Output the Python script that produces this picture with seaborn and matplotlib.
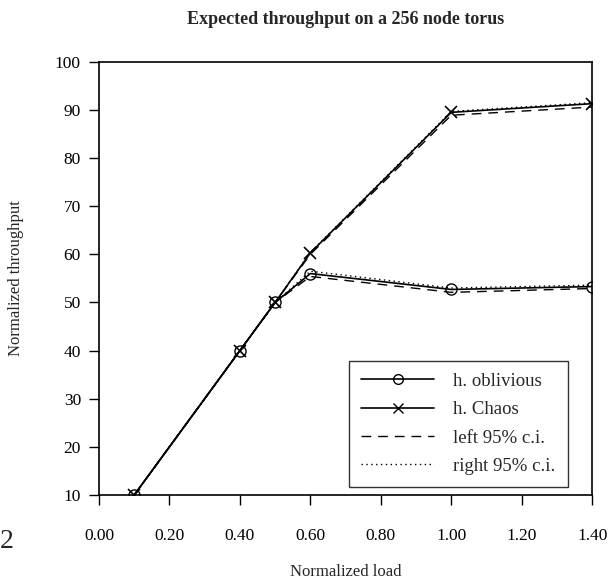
import matplotlib
matplotlib.use("Agg")
import matplotlib.pyplot as plt
import seaborn as sns
from matplotlib.lines import Line2D

# data
load = [0.1, 0.4, 0.5, 0.6, 1.0, 1.4]
oblivious = [10, 40, 50, 56.0, 52.7, 53.3]
chaos = [10, 40, 50, 60.3, 89.5, 91.3]
obl_left = [10, 40, 50, 55.4, 52.1, 52.9]
obl_right = [10, 40, 50, 56.5, 53.0, 53.6]
chaos_left = [10, 40, 50, 60.0, 88.9, 90.6]
chaos_right = [10, 40, 50, 60.4, 89.7, 91.5]

sns.set_style("ticks")
plt.rcParams['font.family'] = ['Liberation Serif', 'DejaVu Serif']
plt.rcParams['xtick.direction'] = 'out'
plt.rcParams['ytick.direction'] = 'out'

fig = plt.figure(figsize=(6.13, 5.83), dpi=100)
ax = fig.add_axes([0.1615, 0.151, 0.8045, 0.743])

dash = (0, (7, 5))
dot = (0, (1, 2.5))
sns.lineplot(x=load, y=obl_left, ax=ax, color='k', lw=1.0, linestyle=dash)
sns.lineplot(x=load, y=chaos_left, ax=ax, color='k', lw=1.0, linestyle=dash)
sns.lineplot(x=load, y=obl_right, ax=ax, color='k', lw=1.0, linestyle=dot)
sns.lineplot(x=load, y=chaos_right, ax=ax, color='k', lw=1.0, linestyle=dot)
sns.lineplot(x=load, y=oblivious, ax=ax, color='k', lw=1.2, marker='o', markersize=8,
             markerfacecolor='none', markeredgecolor='k', markeredgewidth=1.0)
sns.lineplot(x=load, y=chaos, ax=ax, color='k', lw=1.2, marker='x', markersize=8,
             markeredgecolor='k', markeredgewidth=1.2)

ax.set_xlim(0, 1.4)
ax.set_ylim(10, 100)
ax.set_xticks([0, 0.2, 0.4, 0.6, 0.8, 1.0, 1.2, 1.4])
ax.set_xticklabels(['0.00', '0.20', '0.40', '0.60', '0.80', '1.00', '1.20', '1.40'])
ax.set_yticks(range(10, 101, 10))
ax.tick_params(labelsize=12.5, length=7, width=1, colors='k')
ax.tick_params(axis='x', pad=17)
ax.tick_params(axis='y', pad=6)
for s in ax.spines.values():
    s.set_linewidth(1.2)
    s.set_color('k')

ax.set_title('Expected throughput on a 256 node torus', fontsize=13, fontweight='bold', pad=27)
ax.set_xlabel('Normalized load', fontsize=12, labelpad=14)
ax.set_ylabel('Normalized throughput', fontsize=12, labelpad=22)

handles = [
    Line2D([], [], color='k', lw=1.2, marker='o', markerfacecolor='none', markersize=7),
    Line2D([], [], color='k', lw=1.2, marker='x', markersize=7),
    Line2D([], [], color='k', lw=1.0, linestyle=dash),
    Line2D([], [], color='k', lw=1.0, linestyle=dot),
]
leg = ax.legend(handles, ['h. oblivious', 'h. Chaos', 'left 95% c.i.', 'right 95% c.i.'],
                loc='lower right', bbox_to_anchor=(0.95, 0.018), borderaxespad=0,
                fontsize=13.5, frameon=True, fancybox=False, handlelength=3.9,
                borderpad=0.65, labelspacing=0.6, handletextpad=1.0)
leg.get_frame().set_edgecolor('k')
leg.get_frame().set_linewidth(1.0)

fig.text(0.0, 0.06, '2', fontsize=20)

fig.savefig('out.png', dpi=100)
